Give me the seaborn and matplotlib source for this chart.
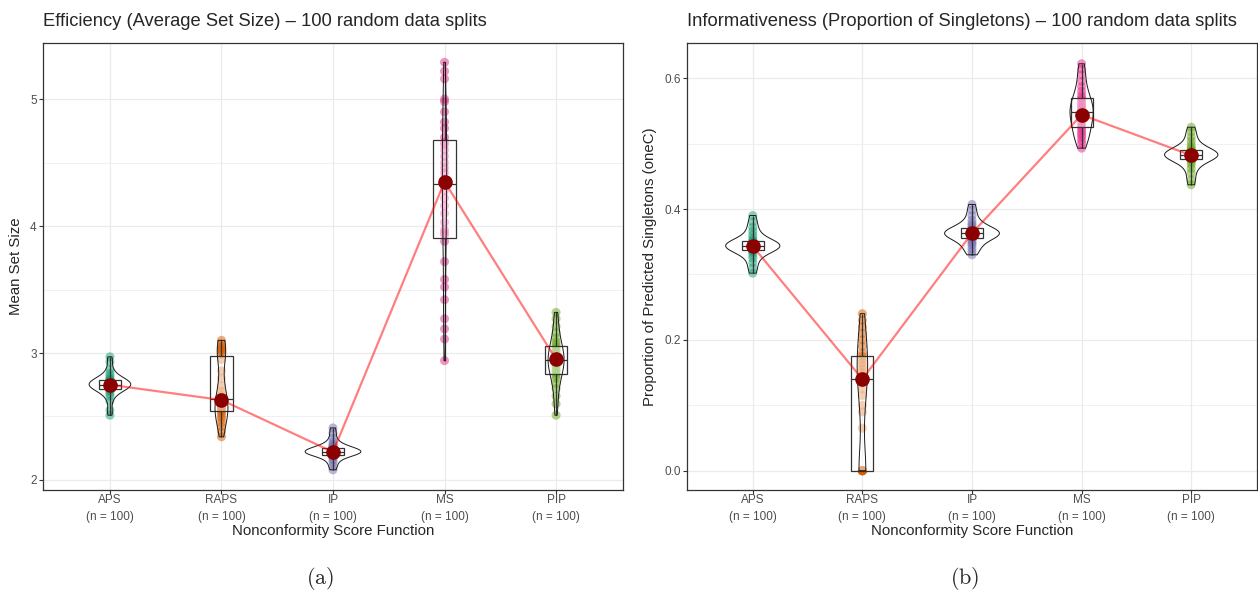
import numpy as np
import pandas as pd
import seaborn as sns
import matplotlib
matplotlib.use("Agg")
import matplotlib.pyplot as plt
from matplotlib.ticker import AutoMinorLocator, MultipleLocator

# categorias y colores (Dark2)
scores = ["APS", "RAPS", "IP", "MS", "PIP"]
n_splits = [100, 100, 100, 100, 100]
colores = ["#1B9E77", "#D95F02", "#7570B3", "#E7298A", "#66A61E"]

# panel (a): tamano medio del conjunto
aps_size = [2.51, 2.55, 2.62, 2.66, 2.68, 2.70, 2.71, 2.72, 2.72, 2.73, 2.73, 2.74, 2.74, 2.75, 2.75,
            2.75, 2.76, 2.76, 2.77, 2.77, 2.78, 2.78, 2.79, 2.79, 2.80, 2.82, 2.84, 2.87, 2.93, 2.97]
raps_size = [2.34, 2.38, 2.42, 2.45, 2.48, 2.50, 2.52, 2.54, 2.55, 2.56, 2.57, 2.58, 2.60, 2.61, 2.63,
             2.65, 2.67, 2.70, 2.74, 2.80, 2.86, 2.95, 2.99, 3.01, 3.02, 3.03, 3.04, 3.05, 3.07, 3.10]
ip_size = [2.08, 2.11, 2.14, 2.16, 2.18, 2.19, 2.20, 2.20, 2.21, 2.21, 2.21, 2.22, 2.22, 2.22, 2.22,
           2.23, 2.23, 2.23, 2.24, 2.24, 2.25, 2.25, 2.26, 2.27, 2.28, 2.30, 2.33, 2.37, 2.41]
ms_size = [2.94, 3.11, 3.19, 3.27, 3.42, 3.52, 3.58, 3.72, 3.88, 3.93, 3.95, 3.97, 4.03, 4.10, 4.16,
           4.22, 4.28, 4.33, 4.37, 4.42, 4.46, 4.50, 4.55, 4.60, 4.64, 4.66, 4.70, 4.77, 4.82, 4.90,
           4.98, 5.00, 5.16, 5.22, 5.29]
pip_size = [2.51, 2.60, 2.66, 2.72, 2.76, 2.80, 2.82, 2.84, 2.86, 2.88, 2.90, 2.92, 2.93, 2.94, 2.95,
            2.96, 2.97, 2.99, 3.01, 3.03, 3.05, 3.07, 3.09, 3.12, 3.16, 3.21, 3.27, 3.32]
medias_size = [2.75, 2.63, 2.22, 4.35, 2.95]

# panel (b): proporcion de singletons
aps_single = [0.302, 0.310, 0.318, 0.325, 0.330, 0.334, 0.336, 0.338, 0.339, 0.340, 0.341, 0.342, 0.343, 0.344,
              0.345, 0.346, 0.347, 0.348, 0.349, 0.350, 0.352, 0.355, 0.360, 0.366, 0.372, 0.380, 0.390]
raps_single = [0.0, 0.0, 0.0, 0.0, 0.0, 0.0, 0.0, 0.0, 0.065, 0.09, 0.10, 0.115, 0.125, 0.135, 0.14,
               0.145, 0.15, 0.155, 0.16, 0.165, 0.17, 0.175, 0.18, 0.19, 0.20, 0.21, 0.22, 0.23, 0.24]
ip_single = [0.330, 0.335, 0.340, 0.345, 0.348, 0.351, 0.354, 0.356, 0.358, 0.359, 0.360, 0.361, 0.362, 0.363,
             0.364, 0.365, 0.366, 0.367, 0.368, 0.370, 0.372, 0.375, 0.378, 0.383, 0.390, 0.398, 0.407]
ms_single = [0.493, 0.500, 0.505, 0.510, 0.514, 0.518, 0.522, 0.526, 0.530, 0.534, 0.538, 0.541, 0.544, 0.546,
             0.548, 0.551, 0.554, 0.557, 0.560, 0.563, 0.567, 0.570, 0.574, 0.580, 0.587, 0.595, 0.605,
             0.614, 0.622]
pip_single = [0.437, 0.445, 0.455, 0.462, 0.468, 0.472, 0.475, 0.477, 0.478, 0.479, 0.480, 0.481, 0.482, 0.483,
              0.484, 0.485, 0.486, 0.487, 0.488, 0.489, 0.491, 0.494, 0.498, 0.504, 0.510, 0.518, 0.525]
medias_single = [0.343, 0.140, 0.363, 0.544, 0.482]

sns.set_theme(style="white")
plt.rcParams["font.family"] = ["Liberation Sans", "DejaVu Sans"]
plt.rcParams["mathtext.fontset"] = "cm"


def armar_df(listas):
    filas = []
    for s, vals in zip(scores, listas):
        for v in vals:
            filas.append((s, v))
    return pd.DataFrame(filas, columns=["Score", "Valor"])


def panel(ax, df, medias, titulo, ylabel, ylim, paso):
    n0 = len(ax.collections)
    sns.stripplot(data=df, x="Score", y="Valor", hue="Score", order=scores, hue_order=scores,
                  palette=colores, jitter=False, size=6.5, alpha=0.5, linewidth=0, legend=False, ax=ax)
    for c in ax.collections[n0:]:
        c.set_zorder(2)
    p0 = len(ax.patches)
    l0 = len(ax.lines)
    sns.boxplot(data=df, x="Score", y="Valor", order=scores, width=0.2, whis=(0, 100),
                showcaps=False, showfliers=False, color="white", linecolor="#333333",
                linewidth=0.9, ax=ax)
    for p in ax.patches[p0:]:
        p.set_facecolor((1, 1, 1, 0.45))
        p.set_zorder(3)
    for ln in ax.lines[l0:]:
        ln.set_zorder(3)
    n1 = len(ax.collections)
    sns.violinplot(data=df, x="Score", y="Valor", order=scores, fill=False, inner=None, cut=0,
                   width=0.5, density_norm="area", bw_method="silverman", bw_adjust=0.8,
                   color="#1a1a1a", linewidth=0.7, ax=ax)
    for c in ax.collections[n1:]:
        c.set_zorder(4)
    # medias
    pos = np.arange(len(scores))
    ax.plot(pos, medias, color="red", alpha=0.5, lw=1.6, zorder=5)
    ax.plot(pos, medias, "o", color="darkred", ms=9.5, zorder=6)

    ax.set_xlim(-0.6, len(scores) - 0.4)
    ax.set_ylim(*ylim)
    ax.yaxis.set_major_locator(MultipleLocator(paso))
    ax.yaxis.set_minor_locator(AutoMinorLocator(2))
    ax.grid(True, which="major", color="#ebebeb", lw=0.9, zorder=0)
    ax.grid(True, which="minor", axis="y", color="#ebebeb", lw=0.5, zorder=0)
    ax.set_axisbelow(True)
    ax.set_xticks(pos)
    ax.set_xticklabels([f"{s}\n(n = {n})" for s, n in zip(scores, n_splits)],
                       fontsize=8.5, color="#4d4d4d", linespacing=1.5)
    ax.tick_params(axis="y", labelsize=8.5, labelcolor="#4d4d4d")
    ax.tick_params(which="major", direction="out", length=3, width=0.8, color="#333333",
                   bottom=True, left=True, pad=1.5)
    ax.tick_params(axis="x", pad=0)
    ax.tick_params(which="minor", length=0)
    for sp in ax.spines.values():
        sp.set_color("#333333")
        sp.set_linewidth(0.9)
    ax.set_xlabel("Nonconformity Score Function", fontsize=10.8, labelpad=1)
    ax.set_ylabel(ylabel, fontsize=10.8, labelpad=5)
    ax.set_title(titulo, fontsize=13.2, loc="left", x=-0.0, pad=12)


fig = plt.figure(figsize=(12.58, 5.96), dpi=100)
ax1 = fig.add_axes([43 / 1258, 106 / 596, 580 / 1258, 447.5 / 596])
ax2 = fig.add_axes([687 / 1258, 106 / 596, 570 / 1258, 447.5 / 596])

df1 = armar_df([aps_size, raps_size, ip_size, ms_size, pip_size])
df2 = armar_df([aps_single, raps_single, ip_single, ms_single, pip_single])

panel(ax1, df1, medias_size, "Efficiency (Average Set Size) \u2013 100 random data splits",
      "Mean Set Size", (1.921, 5.446), 1)
panel(ax2, df2, medias_single, "Informativeness (Proportion of Singletons) \u2013 100 random data splits",
      "Proportion of Predicted Singletons (oneC)", (-0.0295, 0.6545), 0.2)
ax2.yaxis.set_major_formatter(matplotlib.ticker.FormatStrFormatter("%.1f"))

fig.text(320 / 1258, 1 - 578 / 596, r"$\mathrm{(a)}$", fontsize=16, ha="center", va="center")
fig.text(965 / 1258, 1 - 578 / 596, r"$\mathrm{(b)}$", fontsize=16, ha="center", va="center")

fig.savefig("out.png", dpi=100)
